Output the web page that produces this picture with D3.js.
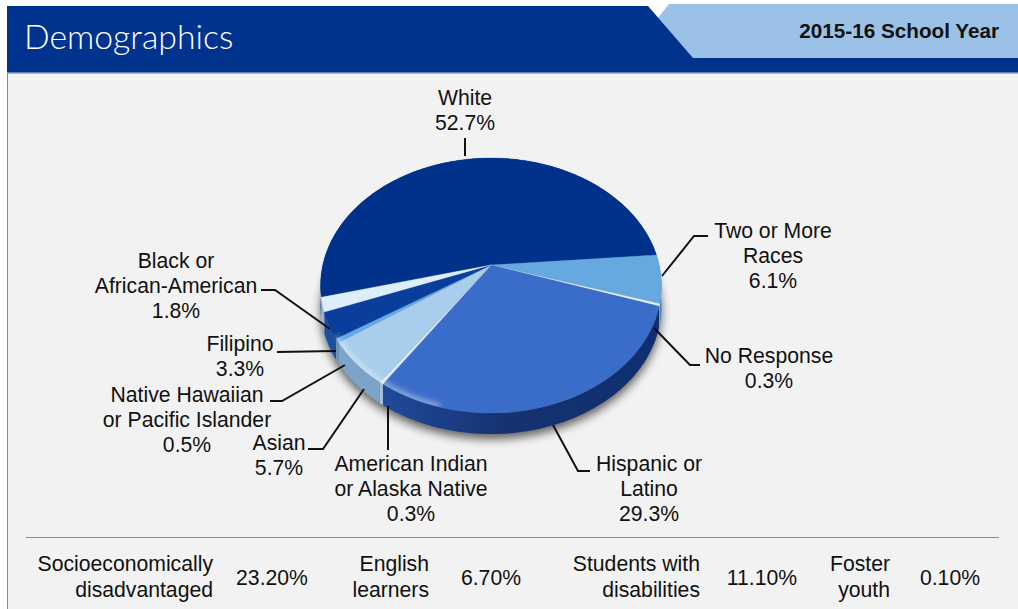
<!DOCTYPE html>
<html>
<head>
<meta charset="utf-8">
<script src="https://cdn.jsdelivr.net/npm/d3@7"></script>
<style>
  html, body { margin: 0; padding: 0; background: #fff; overflow: hidden; }
  text { font-family: "Liberation Sans", Arial, sans-serif; fill: #111; }
</style>
</head>
<body>
<svg id="chart" width="1018" height="609"></svg>
<script>
// Slice data, clockwise from the White slice
const sliceNames = ['White', 'Two or More Races', 'No Response', 'Hispanic or Latino',
  'American Indian or Alaska Native', 'Asian', 'Native Hawaiian or Pacific Islander',
  'Filipino', 'Black or African-American'];
const sliceValues = [52.7, 6.1, 0.3, 29.3, 0.3, 5.7, 0.5, 3.3, 1.8];

// Bottom strip
const statNames = [['Socioeconomically', 'disadvantaged'], ['English', 'learners'],
  ['Students with', 'disabilities'], ['Foster', 'youth']];
const statValues = ['23.20%', '6.70%', '11.10%', '0.10%'];

const titleText = 'Demographics';
const yearText = '2015-16 School Year';

// Slice colours, same order as sliceNames
const topColors = ['#00328c', '#66a8e0', '#e4f2fb', '#3a6cc9', '#dcedf9', '#a9cdec', '#62aae8', '#0a3d9c', '#dcEEfc'];
const sideColors = ['#0a3a90', '#4a80b8', '#b9d3e8', 'url(#sideHispanic)', '#a9c4dc', '#7ea3c9', '#6c95bf', '#1d4f9f', '#8fb5dc'];

// Label lines, anchors and leader paths by slice
const labelLines = [['White', '52.7%'], ['Two or More', 'Races', '6.1%'], ['No Response', '0.3%'],
  ['Hispanic or', 'Latino', '29.3%'], ['American Indian', 'or Alaska Native', '0.3%'], ['Asian', '5.7%'],
  ['Native Hawaiian', 'or Pacific Islander', '0.5%'], ['Filipino', '3.3%'], ['Black or', 'African-American', '1.8%']];
const labelAnchors = [[465, 105], [773, 238], [769, 363], [649, 471], [411, 471], [279, 450], [187, 402], [240, 351], [176, 268]];
const leaders = [
  [[465, 138], [465, 156]],
  [[708, 236], [694, 236], [662, 276]],
  [[700, 365], [690, 365], [654, 328]],
  [[590, 471], [578, 471], [553, 425]],
  [[388, 406], [388, 450]],
  [[308, 449], [323, 449], [364, 389]],
  [[270, 401], [282, 401], [345, 365]],
  [[277, 352], [336, 351]],
  [[261, 290], [275, 290], [330, 329]]
];

const statLabelRight = [213, 429, 700, 890];
const statValueCenter = [272, 491, 762, 950];

const svg = d3.select('#chart');
const defs = svg.append('defs');

defs.append('filter').attr('id', 'blurShadow').attr('x', '-20%').attr('y', '-20%').attr('width', '140%').attr('height', '140%')
  .append('feGaussianBlur').attr('stdDeviation', 5);
defs.append('filter').attr('id', 'blurRim').attr('x', '-20%').attr('y', '-20%').attr('width', '140%').attr('height', '140%')
  .append('feGaussianBlur').attr('stdDeviation', 3);

const sideGrad = defs.append('linearGradient').attr('id', 'sideHispanic');
sideGrad.append('stop').attr('offset', '0%').attr('stop-color', '#1f4a9b');
sideGrad.append('stop').attr('offset', '45%').attr('stop-color', '#16326f');
sideGrad.append('stop').attr('offset', '100%').attr('stop-color', '#0f2f70');

// Page furniture
svg.append('rect').attr('x', 7).attr('y', 72).attr('width', 1011).attr('height', 537)
  .attr('fill', '#f2f2f2');
svg.append('line').attr('x1', 7.5).attr('x2', 7.5).attr('y1', 72).attr('y2', 609)
  .attr('stroke', '#8a8a8a').attr('stroke-width', 1);
svg.append('path').attr('d', 'M669,4 L1018,4 L1018,60 L690,60 L658,18 Z').attr('fill', '#9bc2e6');
svg.append('path').attr('d', 'M7,6 L648,6 L693,58 L1018,58 L1018,72 L7,72 Z').attr('fill', '#00338d');
svg.append('rect').attr('x', 7).attr('y', 72).attr('width', 1011).attr('height', 1.5).attr('fill', '#5f7fae');

svg.append('text').attr('x', 24).attr('y', 49)
  .style('font-family', 'Lato, sans-serif').style('font-weight', 300).style('font-size', '33.8px').style('fill', '#fff')
  .text(titleText);
svg.append('text').attr('x', 999).attr('y', 38).attr('text-anchor', 'end')
  .style('font-weight', 700).style('font-size', '20.7px').text(yearText);

// Projection of the tilted disc: unit circle to page, with perspective
const cx = 491, cy = 265, discR = 168.2, discA = 124.2, persp = -0.161, depth = 21;
const project = (angle, r = 1) => {
  const u = r * Math.sin(angle), v = -r * Math.cos(angle), w = 1 + persp * v;
  return [cx + discR * u / w, cy + discA * v / w];
};
const line = d3.line();
const arcPoints = (a0, a1) => {
  const n = Math.max(2, Math.ceil((a1 - a0) / 0.015));
  return d3.range(n + 1).map(i => project(a0 + (a1 - a0) * i / n));
};

// White starts on the left and runs over the top
const startAngle = 255.6 * Math.PI / 180;
const arcs = d3.pie().sort(null).startAngle(startAngle).endAngle(startAngle + 2 * Math.PI)(sliceValues);
const shiftDown = pts => pts.map(p => [p[0], p[1] + depth]);

const disc = arcPoints(0, 2 * Math.PI);

// Shadow under the disc
svg.append('path')
  .attr('d', line(disc) + 'Z')
  .attr('transform', `translate(0,${depth + 5})`)
  .attr('fill', '#000').attr('opacity', 0.6).attr('filter', 'url(#blurShadow)');

// Outer wall, each slice dropped by the depth
svg.append('g').selectAll('path').data(arcs).join('path')
  .attr('d', d => {
    const top = arcPoints(d.startAngle, d.endAngle);
    return line(top.concat(shiftDown(top).reverse())) + 'Z';
  })
  .attr('fill', (d, i) => sideColors[i]);

// Top face
svg.append('g').selectAll('path').data(arcs).join('path')
  .attr('d', d => line([[cx, cy]].concat(arcPoints(d.startAngle, d.endAngle))) + 'Z')
  .attr('fill', (d, i) => topColors[i])
  .attr('stroke', (d, i) => topColors[i]).attr('stroke-width', 0.3);

// Bevel highlight on the front rim, clipped to the face
defs.append('clipPath').attr('id', 'faceClip').append('path').attr('d', line(disc) + 'Z');
const rim = svg.append('g').attr('clip-path', 'url(#faceClip)');
rim.append('path')
  .attr('d', line(arcPoints(195 * Math.PI / 180, 238 * Math.PI / 180)))
  .attr('fill', 'none').attr('stroke', '#fff').attr('stroke-width', 6)
  .attr('opacity', 0.5).attr('filter', 'url(#blurRim)');

// Leader lines
svg.append('g').selectAll('path').data(leaders).join('path')
  .attr('d', d => line(d))
  .attr('fill', 'none').attr('stroke', '#111').attr('stroke-width', 2);

// Slice labels
const labels = svg.append('g').selectAll('text').data(labelLines).join('text')
  .attr('text-anchor', 'middle')
  .style('font-size', '21.2px');
labels.each(function (lines, i) {
  d3.select(this).selectAll('tspan').data(lines).join('tspan')
    .attr('x', labelAnchors[i][0])
    .attr('y', (d, j) => labelAnchors[i][1] + j * 24.8)
    .text(d => d);
});

// Bottom strip
svg.append('line').attr('x1', 26).attr('x2', 999).attr('y1', 537.5).attr('y2', 537.5)
  .attr('stroke', '#8c8c8c').attr('stroke-width', 1);
statNames.forEach((lines, i) => {
  lines.forEach((s, j) => {
    svg.append('text').attr('x', statLabelRight[i]).attr('y', 571 + j * 25.5)
      .attr('text-anchor', 'end').style('font-size', '21.2px').text(s);
  });
  svg.append('text').attr('x', statValueCenter[i]).attr('y', 585)
    .attr('text-anchor', 'middle').style('font-size', '21.2px').text(statValues[i]);
});
</script>
</body>
</html>
